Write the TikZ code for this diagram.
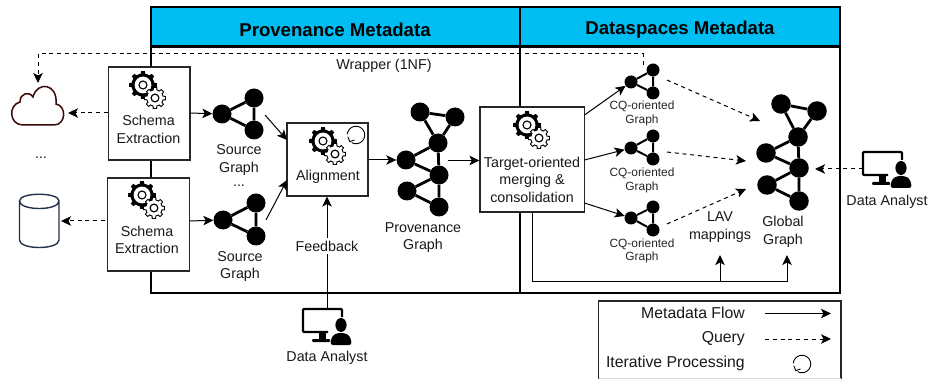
\documentclass[tikz,border=0pt]{standalone}
\usepackage{fontspec}
\setmainfont{Liberation Sans}
\usetikzlibrary{arrows.meta}
\definecolor{hdr}{HTML}{00BEF2}
\definecolor{cloudc}{HTML}{3A0A0A}
\definecolor{cylc}{HTML}{23324A}
\tikzset{
  lbl/.style={inner sep=0pt,align=center,font=\fontsize{14.3}{17.5}\selectfont,text=black!90},
  small/.style={inner sep=0pt,align=center,font=\fontsize{11.9}{13.5}\selectfont,text=black!85},
  legendtxt/.style={inner sep=0pt,anchor=east,font=\fontsize{15.8}{18}\selectfont,text=black!90},
  hdrtxt/.style={inner sep=0pt,font=\bfseries\fontsize{18.6}{20}\selectfont},
  frame/.style={draw=black,line width=2.4pt},
  procbox/.style={draw=black!85,fill=white,line width=1.1pt,inner sep=0pt},
  flow/.style={line width=1pt,-{Stealth[length=10pt,width=9.5pt,inset=2.5pt]}},
  query/.style={line width=1pt,dash pattern=on 4pt off 3.8pt,-{Stealth[length=10pt,width=9.5pt,inset=2.5pt]}},
  gnode/.style={circle,fill=black,draw=none,inner sep=0pt,minimum size=#1},
  gedge/.style={line width=#1,draw=black},
}
\newcommand{\biggear}[2]{%
  \fill[black] plot[domain=0:360,samples=97,shift={(#1,#2)}] (\x:{(cos(8*\x)>0)?14:11.5});
  \fill[white] (#1,#2) circle (8.4);
  \draw[black,line width=1.1pt] (#1,#2) circle (4);
}
\newcommand{\smallgear}[2]{%
  \draw[black,line width=0.9pt,fill=white] plot[domain=0:360,samples=97,shift={(#1,#2)}] (\x+10:{(cos(8*(\x+10))>0)?10.5:8.2}) -- cycle;
  \draw[black,line width=1.2pt] (#1,#2) circle (3.9);
}
\newcommand{\gears}[2]{%
  \biggear{#1}{#2}%
  \smallgear{\the\numexpr#1+12\relax}{\the\numexpr#2+13\relax}%
}
\newcommand{\looparrow}[2]{%
  \draw[black,line width=0.9pt,shift={(#1,#2)}] plot[domain=185:480,samples=40] ({8.7*cos(\x)},{8.7*sin(\x)});
  \draw[black,line width=0.9pt,shift={(#1,#2)}] (-8.2,1.8) -- (-6.2,6.6) -- (-1.5,5);
}
\newcommand{\analyst}[2]{%
  \draw[black,line width=2.2pt,rounded corners=1pt] (#1+26,#2+24) -- (#1+1,#2+24) -- (#1+1,#2+1) -- (#1+40,#2+1) -- (#1+40,#2+9);
  \fill[black] (#1+17,#2+25) rectangle (#1+24,#2+31);
  \fill[black,rounded corners=1pt] (#1+10,#2+31) rectangle (#1+28,#2+34);
  \fill[black] (#1+39,#2+17) ellipse (5.6 and 7);
  \fill[black,rounded corners=3pt] (#1+28,#2+37) -- (#1+30,#2+28) -- (#1+35,#2+25) -- (#1+43,#2+25) -- (#1+48,#2+28) -- (#1+50,#2+37) -- cycle;
}
\begin{document}
\begin{tikzpicture}[x=1pt,y=-1pt]
\useasboundingbox (0,0) rectangle (933,379);
\fill[white] (0,0) rectangle (933,379);
% panels
\fill[hdr] (151,7) rectangle (840,46);
\node[hdrtxt] (h1) at (335,29.5) {Provenance Metadata};
\node[hdrtxt] (h2) at (680,29.5) {Dataspaces Metadata};
\draw[frame] (151,7) rectangle (520,293);
\draw[frame] (520,7) rectangle (840,293);
\draw[frame] (151,46.5) -- (840,46.5);
% wrapper line
\coordinate (wr) at (643,65);
\coordinate (cloudtop) at (38,83);
\node[lbl] (wrap) at (384,66) {Wrapper (1NF)};
\draw[query] (wr) -- (643,54) -- (38,54) -- (cloudtop);
% stores
\draw[cloudc,line width=1.5pt,fill=white] (23,125) .. controls (9,125) and (8,105) .. (20,102) .. controls (20,93) and (29,91) .. (33,97) .. controls (37,81) and (58,83) .. (56,104) .. controls (67,106) and (66,125) .. (54,125) -- cycle;
\coordinate (cloudr) at (68,113);
\node[lbl] (dots1) at (41,158) {...};
\draw[cylc,line width=1.4pt,fill=white] (19.5,201) -- (19.5,240) .. controls (19.5,250) and (59,250) .. (59,240) -- (59,201) .. controls (59,192) and (19.5,192) .. (19.5,201) .. controls (19.5,211) and (59,211) .. (59,201);
\coordinate (cylr) at (61,221);
% schema boxes
\node[procbox,minimum width=81.5pt,minimum height=93pt] (sch1) at (149.2,113.5) {};
\node[procbox,minimum width=81.5pt,minimum height=93pt] (sch2) at (148.5,224.5) {};
\gears{143}{85}
\gears{142}{195}
\node[lbl] (sch1t) at (148.5,129.5) {Schema\\Extraction};
\node[lbl] (sch2t) at (147,240) {Schema\\Extraction};
\draw[query] (sch1.west |- 0,113) -- (cloudr);
\draw[query] (105,221) -- (cylr);
% source graphs
\foreach \n/\x/\y in {a/222/114,b/254/98,c/254/130}{\node[gnode=19pt] (s1\n) at (\x,\y) {};}
\foreach \n/\x/\y in {a/223/220,b/256/203,c/256/236}{\node[gnode=19pt] (s2\n) at (\x,\y) {};}
\draw[gedge=2.8pt] (s1a)--(s1b)--(s1c)--(s1a);
\draw[gedge=2.8pt] (s2a)--(s2b)--(s2c)--(s2a);
\node[lbl] (s1t) at (239,160) {Source\\Graph};
\node[lbl] (dots2) at (239,185.5) {...};
\node[lbl] (s2t) at (240,266.5) {Source\\Graph};
\draw[flow] (190,113) -- (s1a);
\draw[flow] (189.5,221) -- (s2a);
% alignment
\node[procbox,minimum width=81pt,minimum height=73pt] (al) at (327.5,159.5) {};
\gears{323}{141}
\looparrow{356}{135}
\node[lbl] (alt) at (328,177) {Alignment};
\coordinate (s1out) at (265,115);
\coordinate (s2out) at (266,220);
\draw[flow] (s1out) -- (287,140);
\draw[flow] (s2out) -- (287,180);
% provenance graph
\foreach \n/\x/\y in {a/420/112,b/455/117,c/438/143,d/406/160,e/439/175,f/407/191,g/439/207}{\node[gnode=19pt] (p\n) at (\x,\y) {};}
\draw[gedge=2.8pt] (pa)--(pb)--(pc)--(pa) (pc)--(pd)--(pe)--(pc) (pe)--(pf)--(pg)--(pe);
\node[lbl] (pt) at (423,237.5) {Provenance\\Graph};
\draw[flow] (al.east |- 0,160) -- (pd);
% target box
\node[procbox,minimum width=104.5pt,minimum height=105pt] (tg) at (532.2,159.5) {};
\gears{527}{125}
\node[lbl] (tgt) at (532,179.5) {Target-oriented\\merging \&\\consolidation};
\draw[flow] (448,160.5) -- (tg.west |- 0,160.5);
% feedback & analyst
\analyst{302}{308}
\coordinate (fb) at (327,308);
\node[lbl] (dn1) at (327,358) {Data Analyst};
\draw[flow] (fb) -- (al.south -| fb);
\node[lbl,fill=white,inner sep=3pt] (fbt) at (327,246) {Feedback};
% CQ graphs
\foreach \k/\ya/\yb/\yc/\yt in {1/82/70/93/113.5,2/148/136/159/180.5,3/218/207/230/251}{
  \node[gnode=13pt] (q\k a) at (631,\ya) {};
  \node[gnode=13pt] (q\k b) at (653,\yb) {};
  \node[gnode=13pt] (q\k c) at (653,\yc) {};
  \draw[gedge=2pt] (q\k a)--(q\k b)--(q\k c)--(q\k a);
  \node[small] (q\k t) at (642,\yt) {CQ-oriented\\Graph};
}
\draw[flow] (584.5,115) -- (q1a);
\draw[flow] (584.5,160) -- (q2a);
\draw[flow] (584.5,203) -- (q3a);
% global graph
\foreach \n/\x/\y in {a/781/104,b/817/111,c/798/137,d/766/153,e/799/168,f/767/185,g/799/201}{\node[gnode=19.5pt] (g\n) at (\x,\y) {};}
\draw[gedge=2.8pt] (ga)--(gb)--(gc)--(ga) (gc)--(gd)--(ge)--(gc) (ge)--(gf)--(gg)--(ge);
\node[lbl] (gt) at (783,232) {Global\\Graph};
\node[lbl] (lav) at (720,227) {LAV\\mappings};
\draw[query] (667,80) -- (760,121);
\draw[query] (667,152) -- (746,161);
\draw[query] (667,224) -- (746,189);
% bottom feeds
\coordinate (j) at (720,281);
\draw[line width=1pt] (tg.south -| 532,0) -- (532,281) -- (j);
\draw[flow] (j) -- (720,255);
\draw[flow] (j) -- (787,281) -- (787,255);
% right analyst
\analyst{862}{151}
\node[lbl] (dn2) at (887,202) {Data Analyst};
\draw[query] (863,169) -- (815,169);
% legend
\draw[black!85,line width=1.1pt] (598.5,379) -- (598.5,301) -- (841,301) -- (841,379);
\draw[black!15,line width=.8pt] (598.5,378.5) -- (841,378.5);
\node[legendtxt] (l1) at (745,313) {Metadata Flow};
\node[legendtxt] (l2) at (745,339) {Query};
\node[legendtxt] (l3) at (745,363) {Iterative Processing};
\coordinate (la1) at (765,313.5);
\coordinate (la2) at (831,313.5);
\coordinate (lb1) at (765,339);
\coordinate (lb2) at (831,339);
\draw[flow] (la1) -- (la2);
\draw[query] (lb1) -- (lb2);
\looparrow{802}{364}
\end{tikzpicture}
\end{document}
